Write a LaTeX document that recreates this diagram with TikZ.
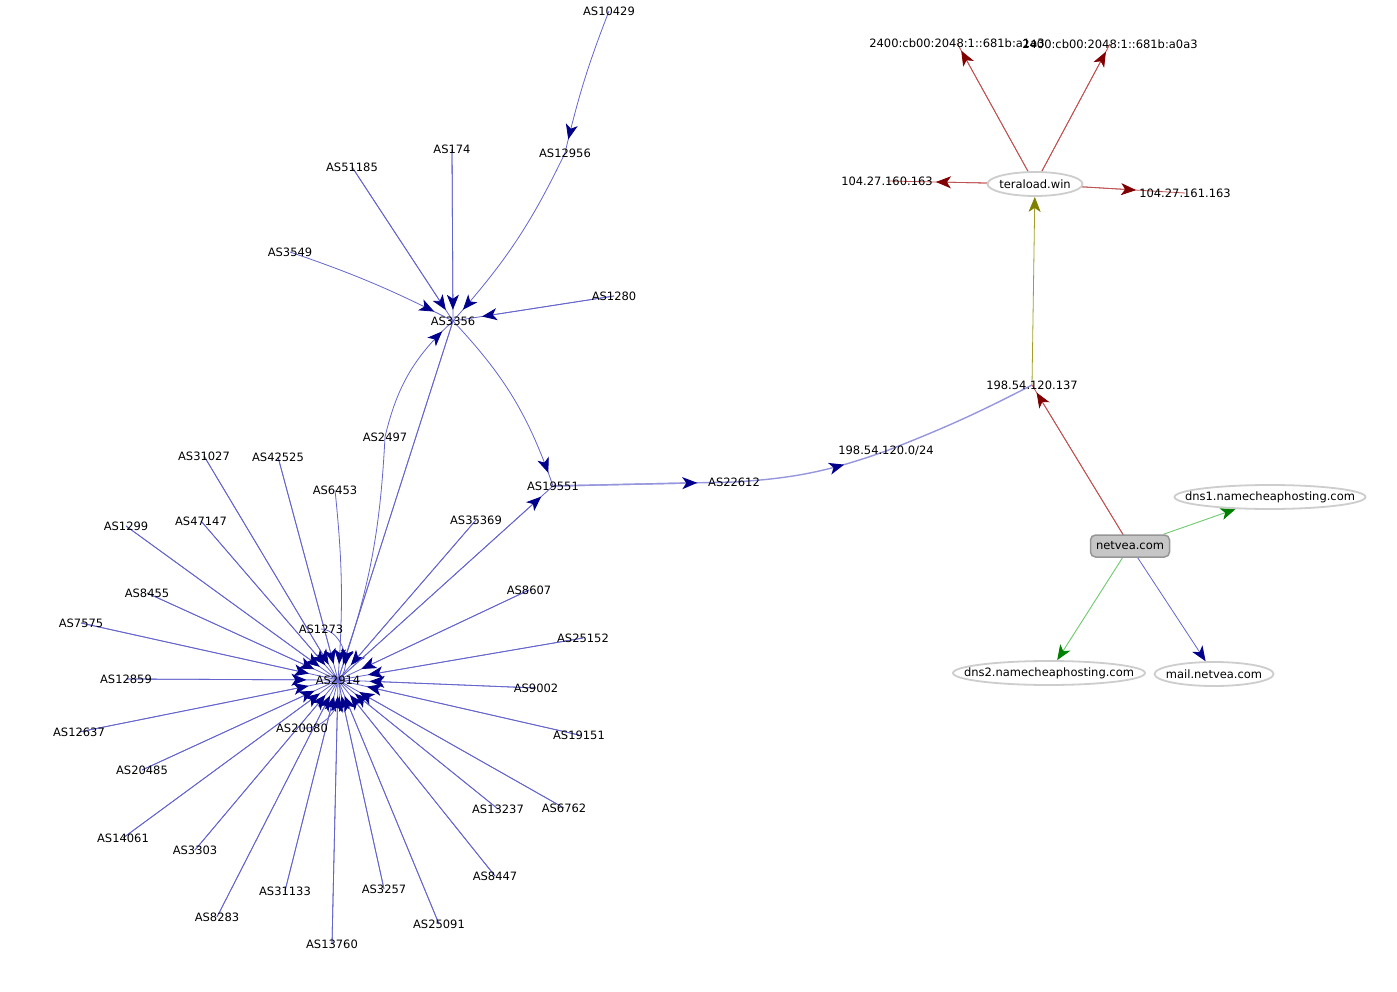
\documentclass[tikz,border=0pt]{standalone}
\usepackage{fontspec}
\setmainfont{DejaVu Sans}
\usetikzlibrary{arrows.meta,shapes.geometric,decorations.markings}
\definecolor{edgeblue}{RGB}{100,100,205}
\definecolor{lavender}{RGB}{150,150,222}
\definecolor{navytip}{RGB}{0,0,140}
\definecolor{redline}{RGB}{190,80,80}
\definecolor{redtip}{RGB}{128,0,0}
\definecolor{oliveline}{RGB}{160,160,40}
\definecolor{olivetip}{RGB}{128,128,0}
\definecolor{greenline}{RGB}{110,200,110}
\definecolor{greentip}{RGB}{0,128,0}
\definecolor{ringgray}{RGB}{205,205,205}
\definecolor{domfill}{RGB}{198,198,198}
\definecolor{domborder}{RGB}{150,150,150}
\pgfdeclarelayer{bg}
\pgfsetlayers{bg,main}
\tikzset{
  lbl/.style={font=\fontsize{11.5}{13}\selectfont, text=black},
  asn/.style={lbl, ellipse, minimum height=22pt, inner sep=0pt},
  ipn/.style={lbl, rectangle, inner xsep=3pt, inner ysep=3pt},
  hubnode/.style={lbl, ellipse, minimum width=62pt, minimum height=32pt, inner sep=0pt},
  host/.style={lbl, ellipse, draw=ringgray, line width=1.8pt, fill=white, inner xsep=-60pt, inner ysep=0pt, minimum height=24pt},
  dom/.style={lbl, rectangle, rounded corners=5pt, draw=domborder, fill=domfill, line width=1.5pt, minimum width=79pt, minimum height=22pt},
  tipnavy/.style={-{Stealth[length=15pt,width=12pt,inset=4pt,color=navytip]}},
  asedge/.style={draw=edgeblue, line width=0.8pt, tipnavy},
  lavedge/.style={draw=lavender, line width=1.4pt, tipnavy},
  lavplain/.style={draw=lavender, line width=1.4pt},
  redge/.style={draw=redline, line width=0.8pt, -{Stealth[length=15pt,width=12pt,inset=4pt,color=redtip]}},
  oedge/.style={draw=oliveline, line width=0.8pt, -{Stealth[length=15pt,width=12pt,inset=4pt,color=olivetip]}},
  gedge/.style={draw=greenline, line width=0.9pt, -{Stealth[length=15pt,width=12pt,inset=4pt,color=greentip]}},
  bedge/.style={draw=edgeblue, line width=0.8pt, tipnavy},
}
% straight edge: drawn centre to centre, arrow ending on the target border
\newcommand{\cedge}[3]{%
  \draw[#1,-] (#2.center) -- (#3.center);
  \draw[#1] (#2.center) -- (#3);}
% curved edge: one curve centre to centre, arrow placed #5 before its end
\newcommand{\kedge}[5]{%
  \draw[#1, -, postaction={decorate}, decoration={markings,
    mark=at position -#5 with {\arrow{Stealth[length=15pt,width=12pt,inset=4pt,color=navytip]}}}]
    (#2.center) #4 (#3.center);}
\begin{document}
\begin{tikzpicture}[x=1pt,y=1pt]
\useasboundingbox (0,0) rectangle (1397,-992);
% upper AS nodes
\node[asn] (as10429) at (609,-11) {AS10429};
\node[asn] (as12956) at (565,-153) {AS12956};
\node[asn] (as174) at (452,-149) {AS174};
\node[asn] (as51185) at (352,-167) {AS51185};
\node[asn] (as3549) at (290,-252) {AS3549};
\node[asn] (as1280) at (614,-296) {AS1280};
\node[asn] (as3356) at (453,-321) {AS3356};
\node[asn] (as2497) at (385,-437) {AS2497};
\node[asn] (as19551) at (553,-486) {AS19551};
\node[asn] (as22612) at (734,-482) {AS22612};
\node[ipn] (p24) at (886,-451) {198.54.120.0/24};
\node[ipn] (ip137) at (1032,-385) {198.54.120.137};
\node[ipn] (ip160) at (887,-181) {104.27.160.163};
\node[ipn] (ip161) at (1185,-193) {104.27.161.163};
\node[ipn] (v6a) at (957,-43) {2400:cb00:2048:1::681b:a1a3};
\node[ipn] (v6b) at (1110,-44) {2400:cb00:2048:1::681b:a0a3};
% hosts
\node[host, minimum width=95pt] (tera) at (1035,-184) {teraload.win};
\node[dom] (netvea) at (1130,-546) {netvea.com};
\node[host, minimum width=191pt] (dns1) at (1270,-497) {dns1.namecheaphosting.com};
\node[host, minimum width=192pt] (dns2) at (1049,-673) {dns2.namecheaphosting.com};
\node[host, minimum width=119pt] (mail) at (1214,-674) {mail.netvea.com};
% hub
\node[hubnode] (as2914) at (338,-680) {AS2914};
% spokes
\node[asn] (as31027) at (204,-456) {AS31027};
\node[asn] (as42525) at (278,-457) {AS42525};
\node[asn] (as6453) at (335,-490) {AS6453};
\node[asn] (as1299) at (126,-526) {AS1299};
\node[asn] (as47147) at (201,-521) {AS47147};
\node[asn] (as35369) at (476,-520) {AS35369};
\node[asn] (as8455) at (147,-593) {AS8455};
\node[asn] (as8607) at (529,-590) {AS8607};
\node[asn] (as7575) at (81,-623) {AS7575};
\node[asn] (as1273) at (321,-629) {AS1273};
\node[asn] (as25152) at (583,-638) {AS25152};
\node[asn] (as12859) at (126,-679) {AS12859};
\node[asn] (as9002) at (536,-688) {AS9002};
\node[asn] (as12637) at (79,-732) {AS12637};
\node[asn] (as20080) at (302,-728) {AS20080};
\node[asn] (as19151) at (579,-735) {AS19151};
\node[asn] (as20485) at (142,-770) {AS20485};
\node[asn] (as13237) at (498,-809) {AS13237};
\node[asn] (as6762) at (564,-808) {AS6762};
\node[asn] (as14061) at (123,-838) {AS14061};
\node[asn] (as3303) at (195,-850) {AS3303};
\node[asn] (as8447) at (495,-876) {AS8447};
\node[asn] (as31133) at (285,-891) {AS31133};
\node[asn] (as3257) at (384,-889) {AS3257};
\node[asn] (as8283) at (217,-917) {AS8283};
\node[asn] (as25091) at (439,-924) {AS25091};
\node[asn] (as13760) at (332,-944) {AS13760};

\begin{pgfonlayer}{bg}
% spokes into hub
\foreach \s in {as31027,as42525,as1299,as47147,as35369,as8455,as8607,as7575,as25152,as12859,as9002,as12637,as19151,as20485,as13237,as6762,as14061,as3303,as8447,as31133,as3257,as8283,as25091,as13760}
  {\cedge{asedge}{\s}{as2914}}
\kedge{asedge}{as6453}{as2914}{to[bend left=5]}{16pt}
\kedge{asedge}{as1273}{as2914}{to[bend left=70]}{17pt}
\kedge{asedge}{as20080}{as2914}{to[bend right=60]}{17pt}
\kedge{asedge}{as2497}{as2914}{to[bend left=8]}{16pt}
\cedge{asedge}{as3356}{as2914}
% into AS3356
\kedge{asedge}{as10429}{as12956}{to[bend right=4]}{14pt}
\kedge{asedge}{as12956}{as3356}{to[bend left=8]}{15pt}
\cedge{asedge}{as174}{as3356}
\cedge{asedge}{as51185}{as3356}
\kedge{asedge}{as3549}{as3356}{to[bend left=4]}{21pt}
\cedge{asedge}{as1280}{as3356}
\kedge{asedge}{as2497}{as3356}{to[bend left=17]}{15pt}
% to AS19551 and beyond
\kedge{asedge}{as3356}{as19551}{to[bend left=12]}{14pt}
\cedge{asedge}{as2914}{as19551}
\cedge{lavedge}{as19551}{as22612}
\kedge{lavedge}{as22612}{p24}{to[bend right=8]}{44pt}
\draw[lavplain] (p24.center) to[bend right=3] (ip137.center);
% domain side
\cedge{redge}{netvea}{ip137}
\draw[oedge] (ip137.center) -- (tera);
\cedge{redge}{tera}{ip160}
\cedge{redge}{tera}{ip161}
\cedge{redge}{tera}{v6a}
\cedge{redge}{tera}{v6b}
\draw[gedge] (netvea) -- (dns1);
\draw[gedge] (netvea) -- (dns2);
\draw[bedge] (netvea) -- (mail);
\end{pgfonlayer}
\end{tikzpicture}
\end{document}
